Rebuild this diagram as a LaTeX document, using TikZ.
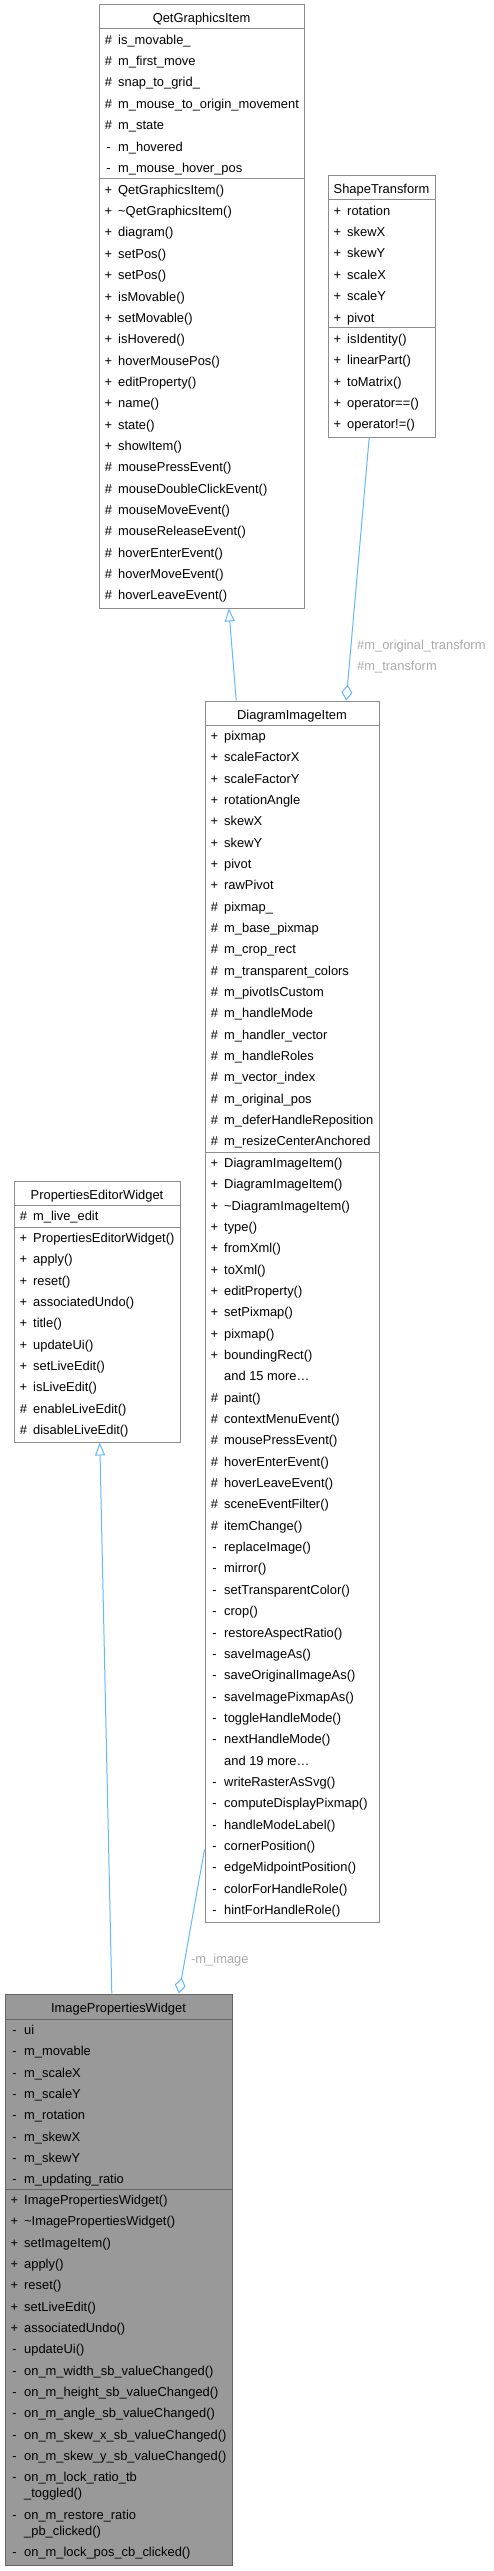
\documentclass[tikz,border=0pt]{standalone}
\usepackage{fontspec}
\setmainfont{Liberation Sans}
\usetikzlibrary{arrows.meta}
\definecolor{boxline}{HTML}{8C8C8C}
\definecolor{mainline}{HTML}{666666}
\definecolor{mainfill}{HTML}{999999}
\definecolor{edgeblue}{HTML}{63B8FF}
\definecolor{lblgray}{HTML}{ABABAB}
\tikzset{
  classbox/.style={draw=boxline,line width=1pt,fill=white,inner sep=0pt},
  mainbox/.style={classbox,draw=mainline,fill=mainfill},
  sepline/.style={draw=boxline,line width=1pt},
  mainsep/.style={draw=mainline,line width=1pt},
  classtitle/.style={anchor=base,inner sep=0pt},
  vismark/.style={anchor=base,inner sep=0pt},
  member/.style={anchor=base west,inner sep=0pt},
  edgelbl/.style={anchor=base west,inner sep=0pt,text=lblgray},
  inherit/.style={draw=edgeblue,line width=1pt,-{Triangle[open,length=13pt,width=10pt]}},
  aggreg/.style={draw=edgeblue,line width=1pt,-{Diamond[open,length=16pt,width=11pt]}}
}
\begin{document}
\begin{tikzpicture}[x=1pt,y=-1pt,font=\fontsize{12.9}{15}\selectfont]
\useasboundingbox[fill=white] (0,0) rectangle (494,2571);
% QetGraphicsItem
\node[classbox,minimum width=205pt,minimum height=603pt] (qgi) at (201.5,306.5) {};
\draw[sepline] (qgi.west |- 0,29) -- (qgi.east |- 0,29);
\draw[sepline] (qgi.west |- 0,179) -- (qgi.east |- 0,179);
\node[classtitle] (qgit) at (201.5,23) {QetGraphicsItem};
\foreach \v/\t [count=\i from 0] in {\#/is\_movable\_,\#/m\_first\_move,\#/snap\_to\_grid\_,
  \#/m\_mouse\_to\_origin\_movement,\#/m\_state,-/m\_hovered,-/m\_mouse\_hover\_pos}{
  \node[vismark] (qgiav\i) at (108.5,{44.3+\i*21.35}) {\v};
  \node[member] (qgia\i) at (118,{44.3+\i*21.35}) {\t};
}
\foreach \v/\t [count=\i from 0] in {+/QetGraphicsItem(),+/\textasciitilde QetGraphicsItem(),
  +/diagram(),+/setPos(),+/setPos(),+/isMovable(),+/setMovable(),+/isHovered(),
  +/hoverMousePos(),+/editProperty(),+/name(),+/state(),+/showItem(),
  \#/mousePressEvent(),\#/mouseDoubleClickEvent(),\#/mouseMoveEvent(),
  \#/mouseReleaseEvent(),\#/hoverEnterEvent(),\#/hoverMoveEvent(),\#/hoverLeaveEvent()}{
  \node[vismark] (qgimv\i) at (108.5,{194.3+\i*21.35}) {\v};
  \node[member] (qgim\i) at (118,{194.3+\i*21.35}) {\t};
}
% ShapeTransform
\node[classbox,minimum width=107pt,minimum height=261pt] (st) at (381.5,306.5) {};
\draw[sepline] (st.west |- 0,200) -- (st.east |- 0,200);
\draw[sepline] (st.west |- 0,328) -- (st.east |- 0,328);
\node[classtitle] (stt) at (381.5,194) {ShapeTransform};
\foreach \t [count=\i from 0] in {rotation,skewX,skewY,scaleX,scaleY,pivot}{
  \node[vismark] (stav\i) at (337.5,{215.3+\i*21.35}) {+};
  \node[member] (sta\i) at (347,{215.3+\i*21.35}) {\t};
}
\foreach \t [count=\i from 0] in {isIdentity(),linearPart(),toMatrix(),operator==(),operator!=()}{
  \node[vismark] (stmv\i) at (337.5,{343.3+\i*21.35}) {+};
  \node[member] (stm\i) at (347,{343.3+\i*21.35}) {\t};
}
% DiagramImageItem
\node[classbox,minimum width=174pt,minimum height=1221pt] (dii) at (292,1311.5) {};
\draw[sepline] (dii.west |- 0,725) -- (dii.east |- 0,725);
\draw[sepline] (dii.west |- 0,1152) -- (dii.east |- 0,1152);
\node[classtitle] (diit) at (292,719) {DiagramImageItem};
\foreach \v/\t [count=\i from 0] in {+/pixmap,+/scaleFactorX,+/scaleFactorY,+/rotationAngle,
  +/skewX,+/skewY,+/pivot,+/rawPivot,\#/pixmap\_,\#/m\_base\_pixmap,\#/m\_crop\_rect,
  \#/m\_transparent\_colors,\#/m\_pivotIsCustom,\#/m\_handleMode,\#/m\_handler\_vector,
  \#/m\_handleRoles,\#/m\_vector\_index,\#/m\_original\_pos,\#/m\_deferHandleReposition,
  \#/m\_resizeCenterAnchored}{
  \node[vismark] (diiav\i) at (214.5,{740.3+\i*21.35}) {\v};
  \node[member] (diia\i) at (224,{740.3+\i*21.35}) {\t};
}
\foreach \v/\t [count=\i from 0] in {+/DiagramImageItem(),+/DiagramImageItem(),
  +/\textasciitilde DiagramImageItem(),+/type(),+/fromXml(),+/toXml(),+/editProperty(),
  +/setPixmap(),+/pixmap(),+/boundingRect(),/and 15 more\dots,\#/paint(),
  \#/contextMenuEvent(),\#/mousePressEvent(),\#/hoverEnterEvent(),\#/hoverLeaveEvent(),
  \#/sceneEventFilter(),\#/itemChange(),-/replaceImage(),-/mirror(),-/setTransparentColor(),
  -/crop(),-/restoreAspectRatio(),-/saveImageAs(),-/saveOriginalImageAs(),
  -/saveImagePixmapAs(),-/toggleHandleMode(),-/nextHandleMode(),/and 19 more\dots,
  -/writeRasterAsSvg(),-/computeDisplayPixmap(),-/handleModeLabel(),-/cornerPosition(),
  -/edgeMidpointPosition(),-/colorForHandleRole(),-/hintForHandleRole()}{
  \node[vismark] (diimv\i) at (214.5,{1167.3+\i*21.35}) {\v};
  \node[member] (diim\i) at (224,{1167.3+\i*21.35}) {\t};
}
% PropertiesEditorWidget
\node[classbox,minimum width=166pt,minimum height=261pt] (pew) at (97,1311.5) {};
\draw[sepline] (pew.west |- 0,1205) -- (pew.east |- 0,1205);
\draw[sepline] (pew.west |- 0,1227) -- (pew.east |- 0,1227);
\node[classtitle] (pewt) at (97,1199) {PropertiesEditorWidget};
\node[vismark] (pewav0) at (23.5,1220.3) {\#};
\node[member] (pewa0) at (33,1220.3) {m\_live\_edit};
\foreach \v/\t [count=\i from 0] in {+/PropertiesEditorWidget(),+/apply(),+/reset(),
  +/associatedUndo(),+/title(),+/updateUi(),+/setLiveEdit(),+/isLiveEdit(),
  \#/enableLiveEdit(),\#/disableLiveEdit()}{
  \node[vismark] (pewmv\i) at (23.5,{1242.3+\i*21.35}) {\v};
  \node[member] (pewm\i) at (33,{1242.3+\i*21.35}) {\t};
}
% ImagePropertiesWidget
\node[mainbox,minimum width=227pt,minimum height=571pt] (ipw) at (118.5,2279.5) {};
\draw[mainsep] (ipw.west |- 0,2019) -- (ipw.east |- 0,2019);
\draw[mainsep] (ipw.west |- 0,2189) -- (ipw.east |- 0,2189);
\node[classtitle] (ipwt) at (118.5,2012) {ImagePropertiesWidget};
\foreach \t [count=\i from 0] in {ui,m\_movable,m\_scaleX,m\_scaleY,m\_rotation,m\_skewX,
  m\_skewY,m\_updating\_ratio}{
  \node[vismark] (ipwav\i) at (14.5,{2034.3+\i*21.35}) {-};
  \node[member] (ipwa\i) at (24,{2034.3+\i*21.35}) {\t};
}
\foreach \v/\t [count=\i from 0] in {+/ImagePropertiesWidget(),
  +/\textasciitilde ImagePropertiesWidget(),+/setImageItem(),+/apply(),+/reset(),
  +/setLiveEdit(),+/associatedUndo(),-/updateUi(),-/on\_m\_width\_sb\_valueChanged(),
  -/on\_m\_height\_sb\_valueChanged(),-/on\_m\_angle\_sb\_valueChanged(),
  -/on\_m\_skew\_x\_sb\_valueChanged(),-/on\_m\_skew\_y\_sb\_valueChanged()}{
  \node[vismark] (ipwmv\i) at (14.5,{2204.3+\i*21.35}) {\v};
  \node[member] (ipwm\i) at (24,{2204.3+\i*21.35}) {\t};
}
\node[vismark] (ipwmv13) at (14.5,2481.85) {-};
\node[member] (ipwm13) at (24,2481.85) {on\_m\_lock\_ratio\_tb};
\node[member] (ipwm13b) at (24,2497.85) {\_toggled()};
\node[vismark] (ipwmv14) at (14.5,2519.2) {-};
\node[member] (ipwm14) at (24,2519.2) {on\_m\_restore\_ratio};
\node[member] (ipwm14b) at (24,2535.2) {\_pb\_clicked()};
\node[vismark] (ipwmv15) at (14.5,2556.55) {-};
\node[member] (ipwm15) at (24,2556.55) {on\_m\_lock\_pos\_cb\_clicked()};
% connectors
\draw[inherit] ([xshift=31.7pt]dii.north west) -- ([xshift=130.3pt]qgi.south west);
\draw[aggreg] ([xshift=41.7pt]st.south west) -- ([xshift=141.7pt]dii.north west);
\node[edgelbl] (lbla) at (357,649) {\#m\_original\_transform};
\node[edgelbl] (lblb) at (357,670.5) {\#m\_transform};
\draw[inherit] ([xshift=107.3pt]ipw.north west) -- ([xshift=86.3pt]pew.south west);
\draw[aggreg] ([yshift=-1149pt]dii.north west) -- ([xshift=174.3pt]ipw.north west);
\node[edgelbl] (lblc) at (191,1963.5) {-m\_image};
\end{tikzpicture}
\end{document}
